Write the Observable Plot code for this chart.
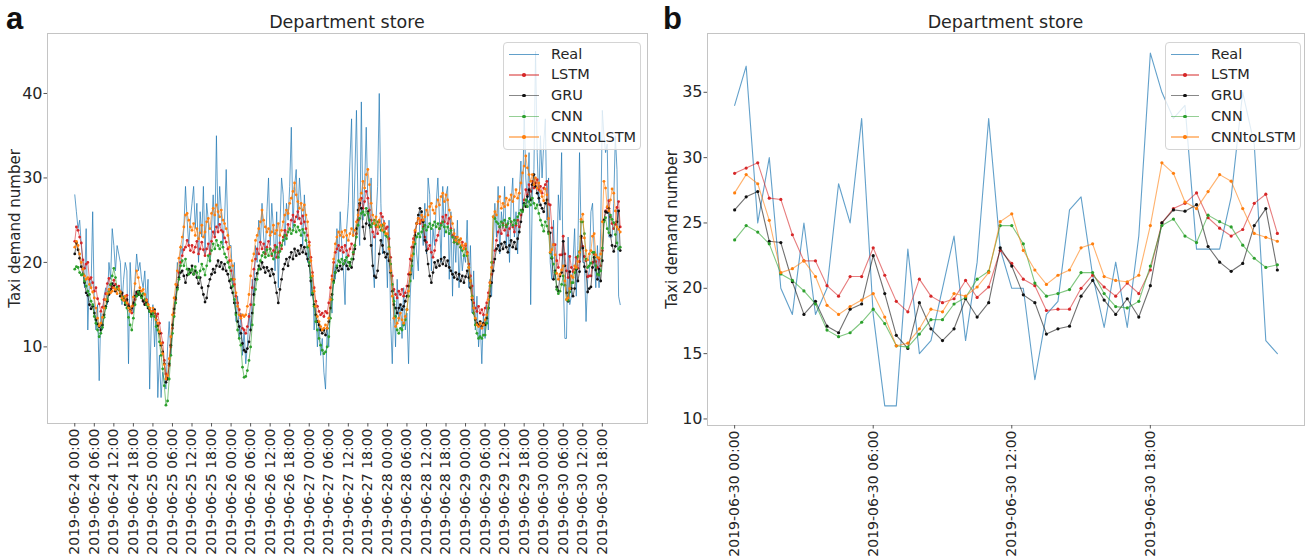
<!DOCTYPE html>
<html><head><meta charset="utf-8">
<script src="https://cdn.jsdelivr.net/npm/d3@7"></script>
<script src="https://cdn.jsdelivr.net/npm/@observablehq/plot@0.6"></script>
<style>
html,body{margin:0;padding:0;background:#fff;}
#root{position:relative;width:1309px;height:560px;overflow:hidden;font-family:"DejaVu Sans",sans-serif;color:#262626;}
.panel{position:absolute;top:0;}
.panel svg{display:block;}
.letter{position:absolute;font-family:"Liberation Sans",Arial,sans-serif;font-weight:bold;font-size:31px;line-height:1;color:#111;}
.title{position:absolute;font-size:17.5px;line-height:1;text-align:center;white-space:nowrap;}
.legend{position:absolute;background:rgba(255,255,255,0.8);border:1px solid #d4d4d4;border-radius:4px;box-sizing:border-box;}
.legend .ln{position:absolute;height:1.6px;}
.legend .dt{position:absolute;width:3.6px;height:3.6px;border-radius:50%;}
.legend .tx{position:absolute;font-size:14.5px;line-height:17px;white-space:nowrap;}
</style></head>
<body><div id="root"></div>
<script>
// ---------- series metadata ----------
const seriesNames = ["Real", "LSTM", "GRU", "CNN", "CNNtoLSTM"];
const seriesColors = ["#1f77b4", "#d62728", "#111111", "#2ca02c", "#ff7f0e"];
const panelTitle = "Department store";
const yLabel = "Taxi demand number";
const startA = "2019-06-24 00:00";
const startB = "2019-06-30 00:00";
const yTicksA = [10, 20, 30, 40];
const yTicksB = [10, 15, 20, 25, 30, 35];
const xTicksA = ["2019-06-24 00:00","2019-06-24 06:00","2019-06-24 12:00","2019-06-24 18:00",
  "2019-06-25 00:00","2019-06-25 06:00","2019-06-25 12:00","2019-06-25 18:00",
  "2019-06-26 00:00","2019-06-26 06:00","2019-06-26 12:00","2019-06-26 18:00",
  "2019-06-27 00:00","2019-06-27 06:00","2019-06-27 12:00","2019-06-27 18:00",
  "2019-06-28 00:00","2019-06-28 06:00","2019-06-28 12:00","2019-06-28 18:00",
  "2019-06-29 00:00","2019-06-29 06:00","2019-06-29 12:00","2019-06-29 18:00",
  "2019-06-30 00:00","2019-06-30 06:00","2019-06-30 12:00","2019-06-30 18:00"];
const xTicksB = ["2019-06-30 00:00","2019-06-30 06:00","2019-06-30 12:00","2019-06-30 18:00"];

// ---------- panel a: 2019-06-24 .. 2019-06-29 (30-min steps) ----------
const realA = [
28,26,24,25,22,20,17,24,12,18,17,26, 15,12,15,6,14,12,16,17,15,20,18,24, 22,19,22,21,20,15,18,20,19,8,20,16, 14,18,21,19,20,18,17,19,15,18,5,13,
15,10,14,4,9,4,7,6,5,10,13,9, 12,15,16,20,18,22,21,24,29,25,22,25, 27,29,24,27,20,26,23,29,21,27,25,20, 24,28,23,35,24,29,26,22,25,31,24,22,
22,17,20,13,16,11,14,9,12,8,10,14, 12,18,16,22,20,25,22,27,23,21,26,30, 22,27,24,19,26,17,24,30,28,22,27,25, 29,36,24,29,31,25,30,27,22,28,24,20,
22,16,19,12,15,10,13,9,11,7,5,12, 10,16,14,20,18,24,20,26,22,19,15,24, 27,32,37,23,30,38,26,22,39,25,29,36, 27,24,30,20,17,25,29,40,27,21,25,23,
17,25,13,8,16,10,18,13,15,11,17,12, 14,8,16,20,18,24,21,19,26,25,22,27, 21,30,28,19,24,22,27,30,25,20,29,23, 28,29,18,26,16,24,20,25,17,22,19,21,
20,25,17,22,14,19,12,16,10,13,8,14, 11,15,12,18,16,22,27,23,29,21,26,24, 29,22,25,20,27,30,23,26,21,28,32,26, 38,30,27,33,15,28,31,45,33,27,35,30];
const lstmA = [
22.5,24.2,23.8,23.0,22.3,20.3,19.3,19.8,20.0,18.0,18.2,17.6, 16.6,17.0,15.7,15.1,14.2,14.7,15.6,16.3,17.5,18.1,17.3,17.0, 17.9,17.4,16.9,17.2,16.5,16.3,15.8,15.4,16.1,15.0,14.3,14.0, 14.9,15.6,16.3,16.6,16.2,16.0,15.5,15.1,15.6,15.0,14.5,13.9,
14.2,14.0,13.6,13.9,12.8,11.6,10.5,8.4,6.8,6.2,7.8,10.0, 12.2,14.0,15.6,17.3,18.8,20.0,20.8,21.5,21.8,22.6,22.0,21.4, 22.0,21.2,21.8,22.5,21.0,21.6,22.4,21.5,20.8,21.6,22.2,21.0, 22.5,23.6,23.0,24.2,23.6,24.5,23.8,23.6,22.9,22.4,21.6,20.2,
19.0,18.0,17.4,16.0,15.2,14.4,13.6,12.2,12.0,11.6,12.4,13.6, 15.0,17.0,19.2,20.4,21.6,21.0,22.4,21.6,22.2,21.0,21.8,22.5, 21.6,20.8,21.4,22.0,20.6,21.2,22.3,21.6,23.0,23.8,23.2,24.5, 23.9,25.0,25.6,24.8,25.4,26.0,25.2,24.6,25.5,24.8,24.0,23.2,
22.4,20.6,18.8,17.0,15.4,14.8,14.2,13.8,14.0,13.6,14.2,14.0, 15.2,17.0,18.4,20.0,21.2,21.6,22.0,21.4,21.8,21.2,22.0,21.4, 20.8,21.6,22.2,21.0,22.0,23.4,25.0,26.8,27.6,26.4,27.2,28.4, 27.6,26.2,25.0,23.6,23.0,24.2,23.4,24.8,25.8,25.4,24.6,24.0,
24.2,22.8,20.6,18.4,16.8,16.2,15.8,16.6,16.2,16.8,16.0,16.4, 17.2,18.6,20.4,21.8,22.8,23.6,24.6,25.2,24.6,25.0,24.2,23.0, 22.4,21.6,22.0,21.2,20.6,21.4,22.6,23.2,24.0,24.6,25.4,24.8, 25.6,24.6,25.2,24.0,23.2,22.4,23.0,22.2,22.6,21.8,22.4,21.6,
22.0,21.2,19.8,18.4,17.2,15.2,14.6,14.2,14.8,14.0,14.4,13.8, 14.6,15.2,16.4,17.6,18.6,20.0,21.4,22.6,23.6,24.2,23.4,24.6, 23.8,24.4,23.2,24.0,24.8,24.2,23.6,24.4,25.0,24.2,25.6,26.2, 27.4,28.6,28.0,29.2,28.4,29.6,28.8,29.4,29.8,28.6,29.0,28.2];
const gruA = [
21.0,22.3,21.5,20.5,19.5,18.6,17.6,16.4,16.1,15.0,14.5,14.8, 14.0,13.2,12.7,12.4,12.0,12.6,13.8,14.8,15.4,16.2,16.8,17.5, 17.2,16.6,17.0,16.8,16.0,16.4,15.8,15.0,15.6,14.8,14.3,14.6, 15.2,16.0,16.5,16.2,16.6,16.0,15.4,15.0,15.3,14.6,14.2,13.8,
14.0,14.4,13.2,12.5,11.6,10.2,9.4,8.0,5.8,6.2,8.0,10.2, 12.6,14.5,15.8,17.0,18.2,18.8,19.0,18.4,17.6,18.5,19.2,18.8, 19.6,18.6,19.0,18.2,17.5,18.2,17.0,16.2,15.3,15.8,17.2,18.0, 18.6,19.2,18.8,19.6,20.2,19.5,20.0,19.2,19.8,19.0,18.6,17.8,
17.0,16.4,15.2,14.0,13.0,12.4,11.6,10.4,9.6,9.4,9.8,10.6, 12.0,14.0,16.2,18.0,18.7,19.6,19.2,20.0,19.4,18.8,19.4,19.0, 18.4,19.2,18.6,17.6,16.4,15.2,16.8,18.0,19.2,19.8,20.4,19.6, 20.6,21.2,20.4,21.6,20.8,21.4,21.0,22.0,21.2,21.8,21.0,20.4,
19.6,17.8,16.2,15.0,13.8,13.0,12.6,12.0,11.6,12.0,11.4,12.2, 13.0,14.6,16.2,17.8,18.8,19.4,19.0,19.6,19.2,19.8,20.2,19.6, 19.2,20.0,19.4,20.4,21.6,24.0,26.2,27.0,26.4,24.2,22.8,24.6, 26.0,24.4,22.0,19.6,18.4,18.2,19.0,21.0,22.6,22.0,21.2,20.6,
21.0,20.2,18.8,16.6,15.0,14.6,14.0,14.6,15.0,14.4,14.8,15.4, 16.0,17.2,18.6,20.2,21.8,23.2,24.6,25.6,26.4,26.0,24.8,22.6, 21.4,19.8,18.4,17.6,18.8,20.0,19.4,20.2,19.6,20.4,19.8,20.6, 19.6,20.2,19.4,19.0,18.6,18.2,18.8,18.0,18.6,17.8,18.4,17.6,
18.3,19.0,18.2,17.0,15.6,14.0,13.2,12.8,12.6,13.0,12.4,12.8, 12.6,13.4,14.6,16.0,17.6,19.0,20.4,21.6,22.0,21.4,22.2,21.6, 22.4,21.8,21.2,22.0,22.6,21.8,22.4,21.6,22.8,23.6,24.8,26.2, 27.0,26.6,27.8,28.6,27.4,29.2,30.4,29.0,28.2,27.6,26.8,26.4];
const cnnA = [
19.2,19.5,19.4,18.8,18.5,18.6,17.8,17.2,16.6,16.2,15.4,15.0, 13.6,12.8,12.0,11.2,11.6,12.3,13.5,14.6,15.6,16.6,17.4,18.4, 19.3,18.2,17.0,16.8,16.4,15.6,15.9,15.2,14.6,13.5,12.6,12.0, 13.4,15.0,16.0,16.5,16.2,15.8,16.3,15.6,15.0,14.8,14.2,13.6,
14.0,13.6,12.4,12.0,10.6,9.0,7.4,5.4,3.1,3.6,6.2,9.0, 11.6,13.6,15.2,16.8,18.0,19.6,20.2,19.6,20.4,19.2,18.6,19.0, 19.2,18.6,19.5,18.8,18.2,19.0,19.8,19.2,18.5,19.6,20.8,20.2, 21.4,22.2,21.6,22.6,22.0,21.6,22.4,21.8,21.0,20.6,20.0,19.4,
18.0,17.2,15.6,13.8,12.0,11.0,10.2,7.6,6.4,6.5,7.2,8.4, 10.0,12.6,15.0,16.8,18.0,19.2,20.2,20.8,21.2,20.6,21.5,20.8, 21.6,21.0,20.4,21.2,21.8,20.6,21.3,22.0,22.6,23.2,22.8,23.6, 24.0,23.4,23.8,24.4,23.6,24.2,23.8,23.2,23.9,23.5,22.6,21.8,
20.0,18.2,16.4,14.8,13.0,12.0,11.0,10.2,9.6,9.2,9.4,10.0, 11.2,13.4,15.6,17.6,18.8,19.6,20.2,20.0,20.4,19.8,20.2,20.6, 20.0,19.6,20.4,21.2,22.0,23.0,24.4,25.2,25.8,26.0,25.6,26.4, 25.8,25.0,24.2,24.6,25.0,24.4,24.8,24.2,23.8,24.4,23.6,23.2,
23.0,21.8,19.8,17.4,15.4,13.6,12.0,11.6,12.2,12.0,12.6,13.2, 14.4,16.0,17.8,19.6,21.0,22.2,23.0,23.4,23.0,23.6,24.0,24.4, 23.8,24.2,24.6,24.0,24.4,24.8,24.2,24.6,24.0,24.4,24.8,24.2, 23.6,24.2,23.4,23.8,23.0,22.4,22.8,22.2,22.6,21.8,21.4,20.8,
21.6,20.8,19.4,17.8,16.0,14.0,12.6,11.6,11.0,11.2,11.0,11.4, 11.4,12.8,14.6,17.2,20.0,25.4,25.2,24.8,24.6,24.2,24.8,24.4, 25.0,24.2,24.6,25.2,24.8,24.4,25.0,24.6,25.4,25.8,26.2,26.0, 26.8,27.4,26.6,27.2,26.8,27.6,27.0,26.4,26.8,25.8,25.0,24.4];
const cnnlstmA = [
21.8,22.5,22.0,21.0,20.0,19.2,18.4,18.0,18.2,17.4,17.0,16.5, 15.8,14.6,13.4,12.5,12.8,13.5,14.6,15.6,16.3,16.8,16.4,16.6, 17.0,16.8,16.3,16.9,16.5,15.8,15.5,16.0,15.2,14.6,14.2,14.8, 15.9,17.5,19.0,18.2,17.0,16.6,16.8,16.2,15.5,15.0,14.6,14.2,
14.6,14.2,13.2,12.8,11.8,10.4,9.2,7.9,6.2,6.6,8.6,11.2, 13.8,15.8,17.4,19.0,20.5,21.8,23.0,24.2,25.6,25.8,25.0,24.2, 23.8,24.6,23.2,24.0,22.8,23.5,24.4,23.0,23.6,24.8,25.2,24.0, 25.8,26.4,25.6,26.8,26.0,25.4,26.2,25.0,24.6,24.0,23.2,21.8,
20.2,19.6,18.0,16.4,14.8,13.8,13.4,13.8,13.6,13.8,14.8,16.2, 18.4,20.2,21.0,22.6,23.2,24.0,24.8,26.2,25.0,24.2,23.6,24.0, 23.2,23.6,24.4,23.4,23.8,24.6,23.2,23.8,24.8,25.6,26.2,25.8, 27.0,27.6,28.4,29.4,28.0,27.2,26.4,27.0,26.2,26.8,25.6,24.8,
22.0,20.2,18.4,16.6,14.8,13.6,13.0,12.4,12.0,12.2,12.6,12.2, 13.4,15.6,18.0,20.4,22.2,23.0,23.6,23.2,23.6,23.0,23.8,23.2, 22.6,23.4,24.0,23.2,23.8,24.8,25.6,27.4,28.2,29.6,28.8,30.4, 31.0,29.2,27.0,25.6,24.6,25.4,24.2,25.0,24.4,23.8,24.6,23.4,
23.4,21.6,19.0,16.0,13.4,12.4,12.8,13.4,14.0,13.2,12.8,13.6, 14.4,16.6,18.8,20.8,22.4,23.8,24.6,25.2,24.8,25.6,25.0,25.4, 26.2,25.6,26.6,27.0,26.2,25.8,26.6,27.4,26.8,27.8,28.2,27.2, 28.0,27.4,26.2,25.4,24.6,23.4,22.6,23.0,22.4,22.8,22.0,21.6,
22.2,21.0,19.4,17.8,15.8,14.6,13.4,12.6,12.4,12.8,12.2,12.6, 13.2,13.8,15.6,17.6,19.4,25.4,26.0,25.6,27.2,27.8,26.4,27.0, 26.6,27.6,26.8,27.4,28.0,27.2,27.8,28.6,27.6,28.2,29.4,30.6, 31.4,32.6,31.2,30.4,29.6,30.4,29.2,30.0,28.8,29.4,28.4,27.8];

// ---------- panel b: 2019-06-30 (30-min steps) ----------
const realB = [34,37,25,30,20,18,25,18,20,28,25,33, 18,11,11,23,15,16,20,24,16,22,33,23, 20,20,13,18,19,26,27,21,17,22,17,24, 38,35,33,34,23,23,23,27,35,31,16,15];
const lstmB = [28.8,29.2,29.6,26.9,26.8,24.1,22.1,22.1,20.2,19.4,20.9,20.9, 23.1,21.0,19.0,18.2,20.7,19.4,18.9,19.2,20.6,19.3,20.1,22.9, 21.9,20.7,20.2,18.3,18.4,18.4,20.0,21.0,20.1,19.4,20.4,19.6, 21.4,25.0,26.1,26.5,27.3,25.4,24.6,24.0,24.5,26.5,27.2,24.2];
const gruB = [26.0,27.0,27.4,23.6,23.5,20.5,18.0,19.0,17.1,16.6,18.4,18.8, 22.5,19.6,16.4,15.4,18.9,16.9,16.0,16.9,19.2,17.8,18.9,23.1, 21.7,19.5,18.9,16.5,16.9,17.1,19.4,20.6,19.1,18.0,19.2,17.8, 20.2,25.0,26.0,25.9,26.4,23.2,22.0,21.3,21.9,24.8,26.1,21.4];
const cnnB = [23.7,24.8,24.3,23.4,21.1,20.6,19.8,18.8,16.8,16.3,16.6,17.4, 18.4,17.3,15.6,15.5,16.5,17.6,17.6,18.8,19.3,20.7,21.3,24.8, 24.8,23.4,20.4,19.4,19.6,19.9,21.2,21.2,19.6,18.6,18.5,19.0, 21.7,24.8,25.3,24.0,23.5,25.6,25.1,24.7,23.3,22.3,21.6,21.8];
const cnnlstmB = [27.3,28.7,28.0,25.2,21.2,21.5,22.1,20.9,18.7,18.0,18.6,19.1, 19.6,17.8,15.6,15.8,16.9,18.4,18.2,19.6,19.4,20.1,21.2,25.1, 25.7,22.9,21.4,20.3,21.0,21.4,23.1,23.4,20.9,20.6,20.5,21.0, 24.8,29.6,28.8,26.6,26.1,27.4,28.7,28.2,26.1,24.2,23.9,23.6];

// ---------- drawing ----------
const parse = d3.utcParse("%Y-%m-%d %H:%M");
const fmt = d3.utcFormat("%Y-%m-%d %H:%M");
const STEP = 30 * 60 * 1000;

function buildPanel(cfg) {
  const start = parse(cfg.start).getTime();
  const n = cfg.series[0].length;
  const dates = d3.range(n).map(i => new Date(start + i * STEP));
  const span = (n - 1) * STEP, pad = span * 0.05;
  const marks = [Plot.frame({stroke: "#c4c4c4"})];
  cfg.series.forEach((vals, k) => {
    marks.push(Plot.line(vals, {x: (d, i) => dates[i], y: d => d, stroke: seriesColors[k],
      strokeOpacity: k === 0 ? 0.7 : 0.6, strokeWidth: cfg.lineWidth}));
    if (k > 0) marks.push(Plot.dot(vals, {x: (d, i) => dates[i], y: d => d, r: cfg.dotR, fill: seriesColors[k]}));
  });
  marks.push(Plot.axisY({ticks: cfg.yTicks, tickSize: 3.5, tickPadding: 1.5, label: null, fontSize: 16, stroke: "#555"}));
  marks.push(Plot.axisX({ticks: cfg.xTicks.map(parse), tickFormat: fmt, tickRotate: -90, tickSize: 3.5,
    tickPadding: 1.5, label: null, fontSize: 14, stroke: "#555"}));
  marks.push(Plot.text([yLabel], {text: d => d, frameAnchor: "left", textAnchor: "middle", rotate: -90,
    dx: cfg.labelDx, fontSize: 15}));
  return Plot.plot({
    width: cfg.width, height: 560,
    marginLeft: cfg.marginLeft, marginRight: cfg.marginRight, marginTop: 33, marginBottom: cfg.marginBottom,
    x: {type: "utc", domain: [new Date(start - pad), new Date(start + span + pad)]},
    y: {domain: cfg.yDomain},
    style: {fontFamily: "DejaVu Sans", fontSize: "15px", color: "#262626", background: "white", overflow: "visible"},
    marks
  });
}

const root = document.getElementById("root");
function place(el, left) { const d = document.createElement("div"); d.className = "panel"; d.style.left = left + "px"; d.appendChild(el); root.appendChild(d); }

place(buildPanel({
  start: startA, series: [realA.concat(realB), lstmA.concat(lstmB), gruA.concat(gruB), cnnA.concat(cnnB), cnnlstmA.concat(cnnlstmB)],
  width: 655, marginLeft: 47, marginRight: 8, marginBottom: 137, yDomain: [0.93, 47.1], yTicks: yTicksA, xTicks: xTicksA,
  labelDx: -32, lineWidth: 1, dotR: 1.4
}), 0);
place(buildPanel({
  start: startB, series: [realB, lstmB, gruB, cnnB, cnnlstmB],
  width: 654, marginLeft: 52, marginRight: 5, marginBottom: 135, yDomain: [9.5, 39.5], yTicks: yTicksB, xTicks: xTicksB,
  labelDx: -35, lineWidth: 1.1, dotR: 1.6
}), 655);

function addText(cls, text, style) { const d = document.createElement("div"); d.className = cls; d.textContent = text; Object.assign(d.style, style); root.appendChild(d); }
addText("letter", "a", {left: "6px", top: "3px"});
addText("letter", "b", {left: "663px", top: "3px"});
addText("title", panelTitle, {left: "47px", width: "600px", top: "14px"});
addText("title", panelTitle, {left: "707px", width: "597px", top: "14px"});

function legend(left, width, lineX, lineW, textX) {
  const box = document.createElement("div");
  box.className = "legend";
  Object.assign(box.style, {left: left + "px", top: "42px", width: width + "px", height: "108px"});
  const rows = [11.3, 31.8, 52.5, 73.3, 94];
  seriesNames.forEach((name, k) => {
    const ln = document.createElement("div"); ln.className = "ln";
    Object.assign(ln.style, {left: lineX + "px", width: lineW + "px", top: (rows[k] - 0.8) + "px", background: seriesColors[k], opacity: k === 0 ? 0.7 : 0.5});
    box.appendChild(ln);
    if (k > 0) {
      const dt = document.createElement("div"); dt.className = "dt";
      Object.assign(dt.style, {left: (lineX + lineW / 2 - 1.8) + "px", top: (rows[k] - 1.8) + "px", background: seriesColors[k]});
      box.appendChild(dt);
    }
    const tx = document.createElement("div"); tx.className = "tx"; tx.textContent = name;
    Object.assign(tx.style, {left: textX + "px", top: (rows[k] - 8.5) + "px"});
    box.appendChild(tx);
  });
  root.appendChild(box);
}
legend(503, 138, 5, 30, 47);
legend(1165, 136, 5, 28, 45);
</script></body></html>
